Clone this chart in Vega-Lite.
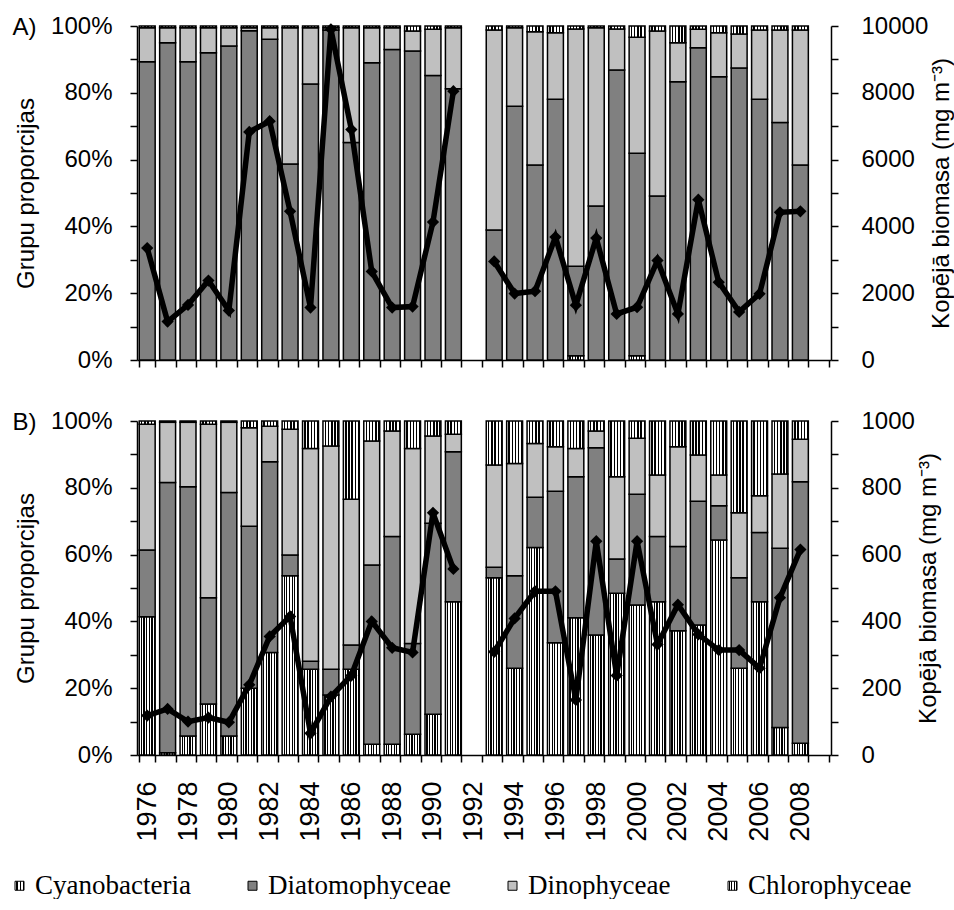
{
  "$schema": "https://vega.github.io/schema/vega-lite/v6.json",
  "background": "white",
  "padding": {"left": 6, "top": 14, "right": 0, "bottom": 0},
  "config": {
    "font": "Liberation Sans",
    "view": {"stroke": null},
    "axis": {"labelFont": "Liberation Sans", "labelFontSize": 24, "labelColor": "black", "titleFont": "Liberation Sans", "titleFontSize": 24, "titleFontWeight": "normal", "titleColor": "black", "domainColor": "black", "domainWidth": 1.5, "tickColor": "black", "tickWidth": 1.5, "tickSize": 7, "grid": false, "labelOverlap": false, "labelFlush": false}
  },
  "datasets": {
    "rows": [
      {"panel": "A", "year": 1976, "period": "p1", "Cyanobacteria": 0, "Diatomophyceae": 89.3, "Dinophyceae": 10.2, "Chlorophyceae": 0.5, "biomass": 3350},
      {"panel": "A", "year": 1977, "period": "p1", "Cyanobacteria": 0, "Diatomophyceae": 95.0, "Dinophyceae": 4.5, "Chlorophyceae": 0.5, "biomass": 1150},
      {"panel": "A", "year": 1978, "period": "p1", "Cyanobacteria": 0, "Diatomophyceae": 89.3, "Dinophyceae": 10.2, "Chlorophyceae": 0.5, "biomass": 1650},
      {"panel": "A", "year": 1979, "period": "p1", "Cyanobacteria": 0, "Diatomophyceae": 92.0, "Dinophyceae": 7.5, "Chlorophyceae": 0.5, "biomass": 2380},
      {"panel": "A", "year": 1980, "period": "p1", "Cyanobacteria": 0, "Diatomophyceae": 94.0, "Dinophyceae": 5.5, "Chlorophyceae": 0.5, "biomass": 1480},
      {"panel": "A", "year": 1981, "period": "p1", "Cyanobacteria": 0, "Diatomophyceae": 98.6, "Dinophyceae": 0.9, "Chlorophyceae": 0.5, "biomass": 6830},
      {"panel": "A", "year": 1982, "period": "p1", "Cyanobacteria": 0, "Diatomophyceae": 96.0, "Dinophyceae": 3.5, "Chlorophyceae": 0.5, "biomass": 7150},
      {"panel": "A", "year": 1983, "period": "p1", "Cyanobacteria": 0, "Diatomophyceae": 58.7, "Dinophyceae": 40.8, "Chlorophyceae": 0.5, "biomass": 4450},
      {"panel": "A", "year": 1984, "period": "p1", "Cyanobacteria": 0, "Diatomophyceae": 82.6, "Dinophyceae": 16.9, "Chlorophyceae": 0.5, "biomass": 1570},
      {"panel": "A", "year": 1985, "period": "p1", "Cyanobacteria": 0, "Diatomophyceae": 98.8, "Dinophyceae": 0.7, "Chlorophyceae": 0.5, "biomass": 9900},
      {"panel": "A", "year": 1986, "period": "p1", "Cyanobacteria": 0, "Diatomophyceae": 65.1, "Dinophyceae": 34.4, "Chlorophyceae": 0.5, "biomass": 6900},
      {"panel": "A", "year": 1987, "period": "p1", "Cyanobacteria": 0, "Diatomophyceae": 89.0, "Dinophyceae": 10.5, "Chlorophyceae": 0.5, "biomass": 2650},
      {"panel": "A", "year": 1988, "period": "p1", "Cyanobacteria": 0, "Diatomophyceae": 93.0, "Dinophyceae": 6.5, "Chlorophyceae": 0.5, "biomass": 1570},
      {"panel": "A", "year": 1989, "period": "p1", "Cyanobacteria": 0, "Diatomophyceae": 92.5, "Dinophyceae": 6.0, "Chlorophyceae": 1.5, "biomass": 1600},
      {"panel": "A", "year": 1990, "period": "p1", "Cyanobacteria": 0, "Diatomophyceae": 85.2, "Dinophyceae": 13.8, "Chlorophyceae": 1.0, "biomass": 4130},
      {"panel": "A", "year": 1991, "period": "p1", "Cyanobacteria": 0, "Diatomophyceae": 81.2, "Dinophyceae": 18.3, "Chlorophyceae": 0.5, "biomass": 8050},
      {"panel": "A", "year": 1993, "period": "p2", "Cyanobacteria": 0, "Diatomophyceae": 38.9, "Dinophyceae": 59.9, "Chlorophyceae": 1.2, "biomass": 2950},
      {"panel": "A", "year": 1994, "period": "p2", "Cyanobacteria": 0, "Diatomophyceae": 76.0, "Dinophyceae": 23.5, "Chlorophyceae": 0.5, "biomass": 1990},
      {"panel": "A", "year": 1995, "period": "p2", "Cyanobacteria": 0, "Diatomophyceae": 58.4, "Dinophyceae": 39.9, "Chlorophyceae": 1.7, "biomass": 2060},
      {"panel": "A", "year": 1996, "period": "p2", "Cyanobacteria": 0, "Diatomophyceae": 78.1, "Dinophyceae": 19.9, "Chlorophyceae": 2.0, "biomass": 3680},
      {"panel": "A", "year": 1997, "period": "p2", "Cyanobacteria": 1.3, "Diatomophyceae": 26.8, "Dinophyceae": 71.0, "Chlorophyceae": 0.9, "biomass": 1640},
      {"panel": "A", "year": 1998, "period": "p2", "Cyanobacteria": 0, "Diatomophyceae": 46.1, "Dinophyceae": 53.4, "Chlorophyceae": 0.5, "biomass": 3650},
      {"panel": "A", "year": 1999, "period": "p2", "Cyanobacteria": 0, "Diatomophyceae": 86.8, "Dinophyceae": 12.3, "Chlorophyceae": 0.9, "biomass": 1380},
      {"panel": "A", "year": 2000, "period": "p2", "Cyanobacteria": 1.3, "Diatomophyceae": 60.6, "Dinophyceae": 34.7, "Chlorophyceae": 3.4, "biomass": 1580},
      {"panel": "A", "year": 2001, "period": "p2", "Cyanobacteria": 0, "Diatomophyceae": 49.1, "Dinophyceae": 49.4, "Chlorophyceae": 1.5, "biomass": 2980},
      {"panel": "A", "year": 2002, "period": "p2", "Cyanobacteria": 0, "Diatomophyceae": 83.3, "Dinophyceae": 11.7, "Chlorophyceae": 5.0, "biomass": 1380},
      {"panel": "A", "year": 2003, "period": "p2", "Cyanobacteria": 0, "Diatomophyceae": 93.5, "Dinophyceae": 5.5, "Chlorophyceae": 1.0, "biomass": 4800},
      {"panel": "A", "year": 2004, "period": "p2", "Cyanobacteria": 0, "Diatomophyceae": 84.8, "Dinophyceae": 13.2, "Chlorophyceae": 2.0, "biomass": 2330},
      {"panel": "A", "year": 2005, "period": "p2", "Cyanobacteria": 0, "Diatomophyceae": 87.4, "Dinophyceae": 10.2, "Chlorophyceae": 2.4, "biomass": 1440},
      {"panel": "A", "year": 2006, "period": "p2", "Cyanobacteria": 0, "Diatomophyceae": 78.1, "Dinophyceae": 20.7, "Chlorophyceae": 1.2, "biomass": 1980},
      {"panel": "A", "year": 2007, "period": "p2", "Cyanobacteria": 0, "Diatomophyceae": 71.1, "Dinophyceae": 27.7, "Chlorophyceae": 1.2, "biomass": 4420},
      {"panel": "A", "year": 2008, "period": "p2", "Cyanobacteria": 0, "Diatomophyceae": 58.4, "Dinophyceae": 40.4, "Chlorophyceae": 1.2, "biomass": 4450},
      {"panel": "B", "year": 1976, "period": "p1", "Cyanobacteria": 41.4, "Diatomophyceae": 20.0, "Dinophyceae": 37.6, "Chlorophyceae": 1.0, "biomass": 118},
      {"panel": "B", "year": 1977, "period": "p1", "Cyanobacteria": 0.7, "Diatomophyceae": 80.9, "Dinophyceae": 18.0, "Chlorophyceae": 0.4, "biomass": 138},
      {"panel": "B", "year": 1978, "period": "p1", "Cyanobacteria": 5.7, "Diatomophyceae": 74.6, "Dinophyceae": 19.3, "Chlorophyceae": 0.4, "biomass": 100},
      {"panel": "B", "year": 1979, "period": "p1", "Cyanobacteria": 15.3, "Diatomophyceae": 31.8, "Dinophyceae": 51.9, "Chlorophyceae": 1.0, "biomass": 112},
      {"panel": "B", "year": 1980, "period": "p1", "Cyanobacteria": 5.7, "Diatomophyceae": 72.9, "Dinophyceae": 21.0, "Chlorophyceae": 0.4, "biomass": 98},
      {"panel": "B", "year": 1981, "period": "p1", "Cyanobacteria": 20.0, "Diatomophyceae": 48.5, "Dinophyceae": 29.5, "Chlorophyceae": 2.0, "biomass": 210},
      {"panel": "B", "year": 1982, "period": "p1", "Cyanobacteria": 30.7, "Diatomophyceae": 57.1, "Dinophyceae": 10.6, "Chlorophyceae": 1.6, "biomass": 355},
      {"panel": "B", "year": 1983, "period": "p1", "Cyanobacteria": 53.7, "Diatomophyceae": 6.2, "Dinophyceae": 37.6, "Chlorophyceae": 2.5, "biomass": 415},
      {"panel": "B", "year": 1984, "period": "p1", "Cyanobacteria": 25.7, "Diatomophyceae": 2.4, "Dinophyceae": 63.7, "Chlorophyceae": 8.2, "biomass": 65},
      {"panel": "B", "year": 1985, "period": "p1", "Cyanobacteria": 18.0, "Diatomophyceae": 7.7, "Dinophyceae": 66.8, "Chlorophyceae": 7.5, "biomass": 175},
      {"panel": "B", "year": 1986, "period": "p1", "Cyanobacteria": 25.7, "Diatomophyceae": 7.2, "Dinophyceae": 43.7, "Chlorophyceae": 23.4, "biomass": 238},
      {"panel": "B", "year": 1987, "period": "p1", "Cyanobacteria": 3.2, "Diatomophyceae": 53.7, "Dinophyceae": 37.1, "Chlorophyceae": 6.0, "biomass": 400},
      {"panel": "B", "year": 1988, "period": "p1", "Cyanobacteria": 3.2, "Diatomophyceae": 62.2, "Dinophyceae": 31.6, "Chlorophyceae": 3.0, "biomass": 321},
      {"panel": "B", "year": 1989, "period": "p1", "Cyanobacteria": 6.2, "Diatomophyceae": 27.2, "Dinophyceae": 58.4, "Chlorophyceae": 8.2, "biomass": 307},
      {"panel": "B", "year": 1990, "period": "p1", "Cyanobacteria": 12.2, "Diatomophyceae": 57.2, "Dinophyceae": 26.1, "Chlorophyceae": 4.5, "biomass": 725},
      {"panel": "B", "year": 1991, "period": "p1", "Cyanobacteria": 45.9, "Diatomophyceae": 44.9, "Dinophyceae": 5.2, "Chlorophyceae": 4.0, "biomass": 557},
      {"panel": "B", "year": 1993, "period": "p2", "Cyanobacteria": 53.1, "Diatomophyceae": 3.1, "Dinophyceae": 30.6, "Chlorophyceae": 13.2, "biomass": 309},
      {"panel": "B", "year": 1994, "period": "p2", "Cyanobacteria": 26.0, "Diatomophyceae": 27.7, "Dinophyceae": 33.6, "Chlorophyceae": 12.7, "biomass": 409},
      {"panel": "B", "year": 1995, "period": "p2", "Cyanobacteria": 62.1, "Diatomophyceae": 15.1, "Dinophyceae": 16.1, "Chlorophyceae": 6.7, "biomass": 490},
      {"panel": "B", "year": 1996, "period": "p2", "Cyanobacteria": 33.6, "Diatomophyceae": 45.4, "Dinophyceae": 13.3, "Chlorophyceae": 7.7, "biomass": 490},
      {"panel": "B", "year": 1997, "period": "p2", "Cyanobacteria": 41.1, "Diatomophyceae": 42.2, "Dinophyceae": 8.5, "Chlorophyceae": 8.2, "biomass": 165},
      {"panel": "B", "year": 1998, "period": "p2", "Cyanobacteria": 35.9, "Diatomophyceae": 56.1, "Dinophyceae": 5.0, "Chlorophyceae": 3.0, "biomass": 640},
      {"panel": "B", "year": 1999, "period": "p2", "Cyanobacteria": 48.4, "Diatomophyceae": 10.3, "Dinophyceae": 24.6, "Chlorophyceae": 16.7, "biomass": 238},
      {"panel": "B", "year": 2000, "period": "p2", "Cyanobacteria": 44.9, "Diatomophyceae": 33.2, "Dinophyceae": 16.7, "Chlorophyceae": 5.2, "biomass": 640},
      {"panel": "B", "year": 2001, "period": "p2", "Cyanobacteria": 45.9, "Diatomophyceae": 19.5, "Dinophyceae": 18.4, "Chlorophyceae": 16.2, "biomass": 331},
      {"panel": "B", "year": 2002, "period": "p2", "Cyanobacteria": 37.2, "Diatomophyceae": 25.2, "Dinophyceae": 29.9, "Chlorophyceae": 7.7, "biomass": 450},
      {"panel": "B", "year": 2003, "period": "p2", "Cyanobacteria": 38.9, "Diatomophyceae": 37.1, "Dinophyceae": 13.8, "Chlorophyceae": 10.2, "biomass": 361},
      {"panel": "B", "year": 2004, "period": "p2", "Cyanobacteria": 64.4, "Diatomophyceae": 10.2, "Dinophyceae": 9.2, "Chlorophyceae": 16.2, "biomass": 314},
      {"panel": "B", "year": 2005, "period": "p2", "Cyanobacteria": 26.0, "Diatomophyceae": 27.1, "Dinophyceae": 19.4, "Chlorophyceae": 27.5, "biomass": 314},
      {"panel": "B", "year": 2006, "period": "p2", "Cyanobacteria": 45.9, "Diatomophyceae": 20.7, "Dinophyceae": 11.0, "Chlorophyceae": 22.4, "biomass": 260},
      {"panel": "B", "year": 2007, "period": "p2", "Cyanobacteria": 8.2, "Diatomophyceae": 53.7, "Dinophyceae": 22.2, "Chlorophyceae": 15.9, "biomass": 471},
      {"panel": "B", "year": 2008, "period": "p2", "Cyanobacteria": 3.5, "Diatomophyceae": 78.3, "Dinophyceae": 12.7, "Chlorophyceae": 5.5, "biomass": 615}
    ]
  },
  "resolve": {"scale": {"color": "shared"}, "legend": {"color": "shared"}},
  "spacing": 37,
  "vconcat": [
    {
      "width": 694,
      "height": 334,
      "layer": [
        {
          "data": {"name": "rows"},
          "transform": [
            {"filter": "datum.panel === 'A'"},
            {"fold": ["Cyanobacteria", "Diatomophyceae", "Dinophyceae", "Chlorophyceae"], "as": ["group", "value"]},
            {"calculate": "indexof(['Cyanobacteria','Diatomophyceae','Dinophyceae','Chlorophyceae'], datum.group)", "as": "ord"}
          ],
          "mark": {"type": "bar", "stroke": "black", "strokeWidth": 1.5},
          "encoding": {
            "x": {"field": "year", "type": "ordinal",
              "scale": {"domain": [1976,1977,1978,1979,1980,1981,1982,1983,1984,1985,1986,1987,1988,1989,1990,1991,1992,1993,1994,1995,1996,1997,1998,1999,2000,2001,2002,2003,2004,2005,2006,2007,2008,2009], "paddingInner": 0.22, "paddingOuter": 0.11},
              "axis": {"title": "A)", "titleX": -125, "titleY": -326, "titleAngle": 0, "titleAlign": "left", "titleBaseline": "alphabetic", "labels": false, "tickBand": "extent"}},
            "y": {"field": "value", "type": "quantitative", "stack": "normalize", "scale": {"domain": [0, 1]},
              "axis": {"title": "Grupu proporcijas", "values": [0,0.1,0.2,0.3,0.4,0.5,0.6,0.7,0.8,0.9,1], "labelExpr": "round(datum.value*10) % 2 === 0 ? format(datum.value, '.0%') : ''", "labelPadding": 18, "titlePadding": 12}},
            "color": {"field": "group", "type": "nominal",
              "scale": {"domain": ["Cyanobacteria", "Diatomophyceae", "Dinophyceae", "Chlorophyceae"],
                "range": [
                  {"expr": "{gradient: 'linear', x1: 0, y1: 0, x2: 1, y2: 0, stops: [{offset: 0, color: 'white'}, {offset: 0.0917, color: 'white'}, {offset: 0.0917, color: 'black'}, {offset: 0.1667, color: 'black'}, {offset: 0.1667, color: 'white'}, {offset: 0.2583, color: 'white'}, {offset: 0.2583, color: 'black'}, {offset: 0.3333, color: 'black'}, {offset: 0.3333, color: 'white'}, {offset: 0.425, color: 'white'}, {offset: 0.425, color: 'black'}, {offset: 0.5, color: 'black'}, {offset: 0.5, color: 'white'}, {offset: 0.5917, color: 'white'}, {offset: 0.5917, color: 'black'}, {offset: 0.6667, color: 'black'}, {offset: 0.6667, color: 'white'}, {offset: 0.7583, color: 'white'}, {offset: 0.7583, color: 'black'}, {offset: 0.8333, color: 'black'}, {offset: 0.8333, color: 'white'}, {offset: 0.925, color: 'white'}, {offset: 0.925, color: 'black'}, {offset: 1, color: 'black'}]}"},
                  "#808080",
                  "#c0c0c0",
                  {"expr": "{gradient: 'linear', x1: 0, y1: 0, x2: 1, y2: 0, stops: [{offset: 0, color: 'white'}, {offset: 0.11, color: 'white'}, {offset: 0.11, color: 'black'}, {offset: 0.2, color: 'black'}, {offset: 0.2, color: 'white'}, {offset: 0.31, color: 'white'}, {offset: 0.31, color: 'black'}, {offset: 0.4, color: 'black'}, {offset: 0.4, color: 'white'}, {offset: 0.51, color: 'white'}, {offset: 0.51, color: 'black'}, {offset: 0.6, color: 'black'}, {offset: 0.6, color: 'white'}, {offset: 0.71, color: 'white'}, {offset: 0.71, color: 'black'}, {offset: 0.8, color: 'black'}, {offset: 0.8, color: 'white'}, {offset: 0.91, color: 'white'}, {offset: 0.91, color: 'black'}, {offset: 1, color: 'black'}]}"}
                ]},
              "legend": {"title": null, "orient": "none", "legendX": -131, "legendY": 846, "direction": "horizontal", "columns": 4, "columnPadding": 48, "symbolType": "square", "symbolSize": 81, "symbolStrokeColor": "black", "symbolStrokeWidth": 1, "symbolOpacity": 1, "labelFont": "Liberation Serif", "labelFontSize": 27, "labelColor": "black", "labelOffset": 2, "padding": 0, "labelLimit": 0}},
            "order": {"field": "ord", "type": "quantitative"}
          }
        },
        {
          "data": {"name": "rows"},
          "transform": [{"filter": "datum.panel === 'A'"}],
          "mark": {"type": "line", "color": "black", "strokeWidth": 5.5, "point": {"filled": true, "shape": "diamond", "size": 150, "color": "black"}},
          "encoding": {
            "x": {"field": "year", "type": "ordinal"},
            "y": {"field": "biomass", "type": "quantitative", "scale": {"domain": [0, 10000]},
              "axis": {"orient": "right", "title": "Kopējā biomasa (mg m⁻³)", "titleAngle": 270, "titleBaseline": "top", "titlePadding": 2, "labelPadding": 23, "values": [0,1000,2000,3000,4000,5000,6000,7000,8000,9000,10000], "labelExpr": "datum.value % 2000 === 0 ? format(datum.value, 'd') : ''"}},
            "detail": {"field": "period", "type": "nominal"}
          }
        }
      ],
      "resolve": {"scale": {"y": "independent"}}
    },
    {
      "width": 694,
      "height": 334,
      "layer": [
        {
          "data": {"name": "rows"},
          "transform": [
            {"filter": "datum.panel === 'B'"},
            {"fold": ["Cyanobacteria", "Diatomophyceae", "Dinophyceae", "Chlorophyceae"], "as": ["group", "value"]},
            {"calculate": "indexof(['Cyanobacteria','Diatomophyceae','Dinophyceae','Chlorophyceae'], datum.group)", "as": "ord"}
          ],
          "mark": {"type": "bar", "stroke": "black", "strokeWidth": 1.5},
          "encoding": {
            "x": {"field": "year", "type": "ordinal",
              "scale": {"domain": [1976,1977,1978,1979,1980,1981,1982,1983,1984,1985,1986,1987,1988,1989,1990,1991,1992,1993,1994,1995,1996,1997,1998,1999,2000,2001,2002,2003,2004,2005,2006,2007,2008,2009], "paddingInner": 0.22, "paddingOuter": 0.11},
              "axis": {"title": "B)", "titleX": -125, "titleY": -326, "titleAngle": 0, "titleAlign": "left", "titleBaseline": "alphabetic", "tickBand": "extent", "labelAngle": -90, "labelPadding": 19, "labelFontSize": 27, "labelExpr": "datum.value % 2 === 0 && datum.value < 2009 ? '' + datum.value : ''"}},
            "y": {"field": "value", "type": "quantitative", "stack": "normalize", "scale": {"domain": [0, 1]},
              "axis": {"title": "Grupu proporcijas", "values": [0,0.1,0.2,0.3,0.4,0.5,0.6,0.7,0.8,0.9,1], "labelExpr": "round(datum.value*10) % 2 === 0 ? format(datum.value, '.0%') : ''", "labelPadding": 18, "titlePadding": 12}},
            "color": {"field": "group", "type": "nominal"},
            "order": {"field": "ord", "type": "quantitative"}
          }
        },
        {
          "data": {"name": "rows"},
          "transform": [{"filter": "datum.panel === 'B'"}],
          "mark": {"type": "line", "color": "black", "strokeWidth": 5.5, "point": {"filled": true, "shape": "diamond", "size": 150, "color": "black"}},
          "encoding": {
            "x": {"field": "year", "type": "ordinal"},
            "y": {"field": "biomass", "type": "quantitative", "scale": {"domain": [0, 1000]},
              "axis": {"orient": "right", "title": "Kopējā biomasa (mg m⁻³)", "titleAngle": 270, "titleBaseline": "top", "titlePadding": 2, "labelPadding": 23, "values": [0,100,200,300,400,500,600,700,800,900,1000], "labelExpr": "datum.value % 200 === 0 ? format(datum.value, 'd') : ''"}},
            "detail": {"field": "period", "type": "nominal"}
          }
        }
      ],
      "resolve": {"scale": {"y": "independent"}}
    }
  ]
}
